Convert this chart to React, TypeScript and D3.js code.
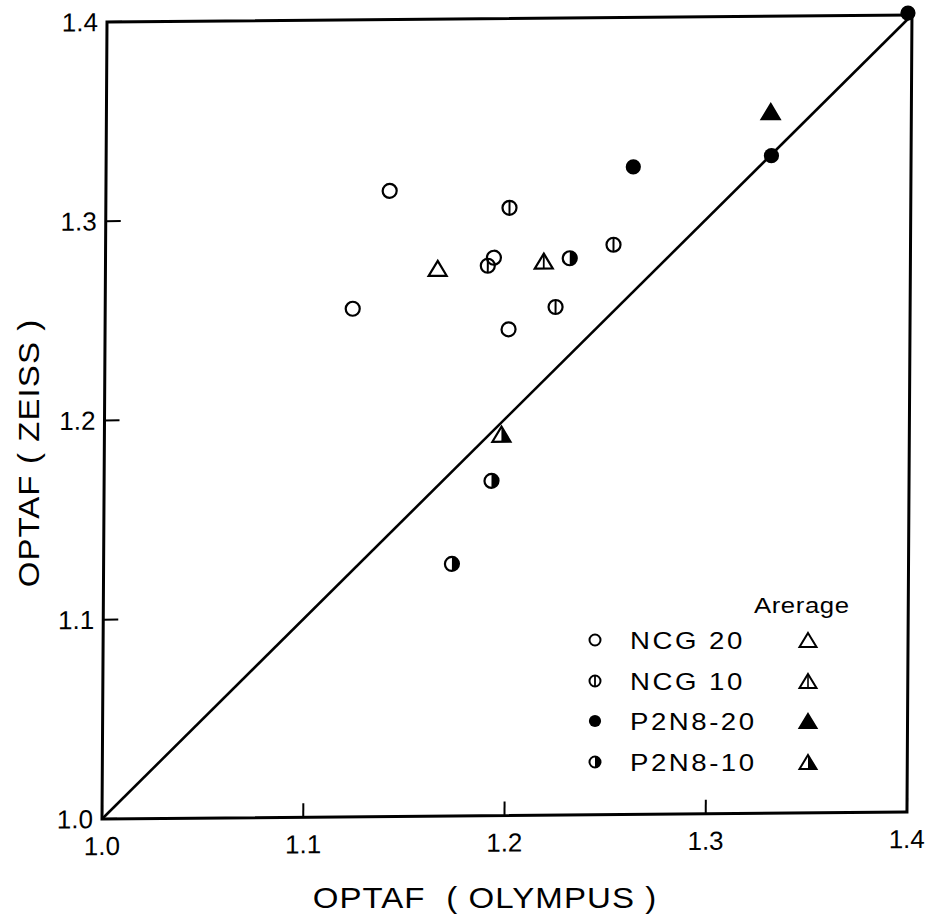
import React from "react";
import * as d3 from "d3";

// ---- data ----
const ncg20X = [1.141, 1.123, 1.193, 1.2005];
const ncg20Y = [1.314, 1.255, 1.28, 1.244];
const ncg10X = [1.2006, 1.2524, 1.2238, 1.19];
const ncg10Y = [1.305, 1.286, 1.255, 1.276];
const p2n820X = [1.262, 1.3306, 1.398];
const p2n820Y = [1.325, 1.33, 1.401];
const p2n810X = [1.2307, 1.1925, 1.1731];
const p2n810Y = [1.2794, 1.168, 1.1265];
const avgX = [1.1651, 1.2178, 1.3301, 1.1973];
const avgY = [1.2749, 1.2781, 1.3521, 1.1914];
const diagVals = [1.0, 1.4];
const tickVals = [1.0, 1.1, 1.2, 1.3, 1.4];
const tickLabels = ["1.0", "1.1", "1.2", "1.3", "1.4"];
const legendNames = ["NCG 20", "NCG 10", "P2N8-20", "P2N8-10"];
const legendKinds = ["open", "line", "filled", "half"];
const avgTitle = "Arerage";
const xTitle = "OPTAF\u00A0\u00A0( OLYMPUS )";
const yTitle = "OPTAF ( ZEISS )";

const W = 938;
const H = 918;
const plotW = 804;
const plotH = 797;
const FONT = "'Liberation Sans', Arial, Helvetica, sans-serif";

const x = d3.scaleLinear().domain([1.0, 1.4]).range([0, plotW]);
const y = d3.scaleLinear().domain([1.0, 1.4]).range([plotH, 0]);

function Circ({ kind, r = 7, sw = 2.2 }: { kind: string; r?: number; sw?: number }) {
  if (kind === "filled") return <circle r={r + 0.6} fill="#000" />;
  return (
    <g>
      {kind === "half" && <path d={`M0,${-r} A${r},${r} 0 0 1 0,${r} Z`} fill="#000" />}
      <circle r={r} fill="none" stroke="#000" strokeWidth={sw} />
      {kind === "line" && <line x1={0} y1={-r} x2={0} y2={r} stroke="#000" strokeWidth={sw * 0.9} />}
    </g>
  );
}

function Tri({ kind, w = 18, h = 15, sw = 2.2 }: { kind: string; w?: number; h?: number; sw?: number }) {
  const pts = `0,${-h / 2} ${w / 2},${h / 2} ${-w / 2},${h / 2}`;
  return (
    <g>
      {kind === "half" && <polygon points={`0,${-h / 2} ${w / 2},${h / 2} 0,${h / 2}`} fill="#000" />}
      <polygon
        points={pts}
        fill={kind === "filled" ? "#000" : "none"}
        stroke="#000"
        strokeWidth={sw}
        strokeLinejoin="miter"
      />
      {kind === "line" && <line x1={0} y1={-h / 2} x2={0} y2={h / 2} stroke="#000" strokeWidth={sw * 0.8} />}
    </g>
  );
}

export default function App() {
  const diagLine = d3
    .line<number>()
    .x((v) => x(v))
    .y((v) => y(v));

  const series = [
    { xs: ncg20X, ys: ncg20Y, kind: "open" },
    { xs: ncg10X, ys: ncg10Y, kind: "line" },
    { xs: p2n820X, ys: p2n820Y, kind: "filled" },
    { xs: p2n810X, ys: p2n810Y, kind: "half" },
  ];

  const legendRowY = [640, 681, 721, 762];

  return (
    <svg
      width={W}
      height={H}
      style={{ position: "absolute", left: 0, top: 0, background: "#fff" }}
      fontFamily={FONT}
    >
      <rect width={W} height={H} fill="#fff" />
      {/* plot group, slightly skewed like the scanned original */}
      <g transform={`matrix(1.0012,-0.0087,-0.00627,1,107,22)`}>
        <rect x={0} y={0} width={plotW} height={plotH} fill="none" stroke="#000" strokeWidth={3} />
        {/* y ticks */}
        {tickVals.map((t, i) => (
          <g key={"yt" + i} transform={`translate(0,${y(t)})`}>
            <line x1={0} x2={15} stroke="#000" strokeWidth={2} />
            <text x={-9} dy="0.35em" textAnchor="end" fontSize={26} fill="#000">
              {tickLabels[i]}
            </text>
          </g>
        ))}
        {/* x ticks */}
        {tickVals.map((t, i) => (
          <g key={"xt" + i} transform={`translate(${x(t)},${plotH})`}>
            <line y1={0} y2={-14} stroke="#000" strokeWidth={2} />
            <text y={36} textAnchor="middle" fontSize={26} fill="#000">
              {tickLabels[i]}
            </text>
          </g>
        ))}
        {/* 1:1 line */}
        <path d={diagLine(diagVals) || ""} fill="none" stroke="#000" strokeWidth={2.6} />
        {/* data points */}
        {series.map((s, si) =>
          s.xs.map((xv, i) => (
            <g key={`p${si}-${i}`} transform={`translate(${x(xv)},${y(s.ys[i])})`}>
              <Circ kind={s.kind} />
            </g>
          ))
        )}
        {avgX.map((xv, i) => (
          <g key={"a" + i} transform={`translate(${x(xv)},${y(avgY[i])})`}>
            <Tri kind={legendKinds[i]} />
          </g>
        ))}
      </g>

      {/* legend */}
      <text transform="translate(754,613) scale(1.12,1)" fontSize={23} letterSpacing={0.5} fill="#000">
        {avgTitle}
      </text>
      {legendNames.map((n, i) => (
        <g key={"lg" + i}>
          <g transform={`translate(595,${legendRowY[i]})`}>
            <Circ kind={legendKinds[i]} r={5.5} sw={2} />
          </g>
          <text
            transform={`translate(630,${legendRowY[i]}) scale(1.15,1)`}
            dy="0.36em"
            fontSize={24}
            letterSpacing={2.2}
            fill="#000"
          >
            {n}
          </text>
          <g transform={`translate(808,${legendRowY[i]})`}>
            <Tri kind={legendKinds[i]} w={17} h={14} sw={2} />
          </g>
        </g>
      ))}

      {/* axis titles */}
      <text
        transform="translate(485,908) scale(1.1,1)"
        textAnchor="middle"
        fontSize={30}
        letterSpacing={1}
        fill="#000"
      >
        {xTitle}
      </text>
      <text
        transform={`translate(39,453) rotate(-90) scale(1.1,1)`}
        textAnchor="middle"
        fontSize={30}
        letterSpacing={1}
        fill="#000"
      >
        {yTitle}
      </text>
    </svg>
  );
}
